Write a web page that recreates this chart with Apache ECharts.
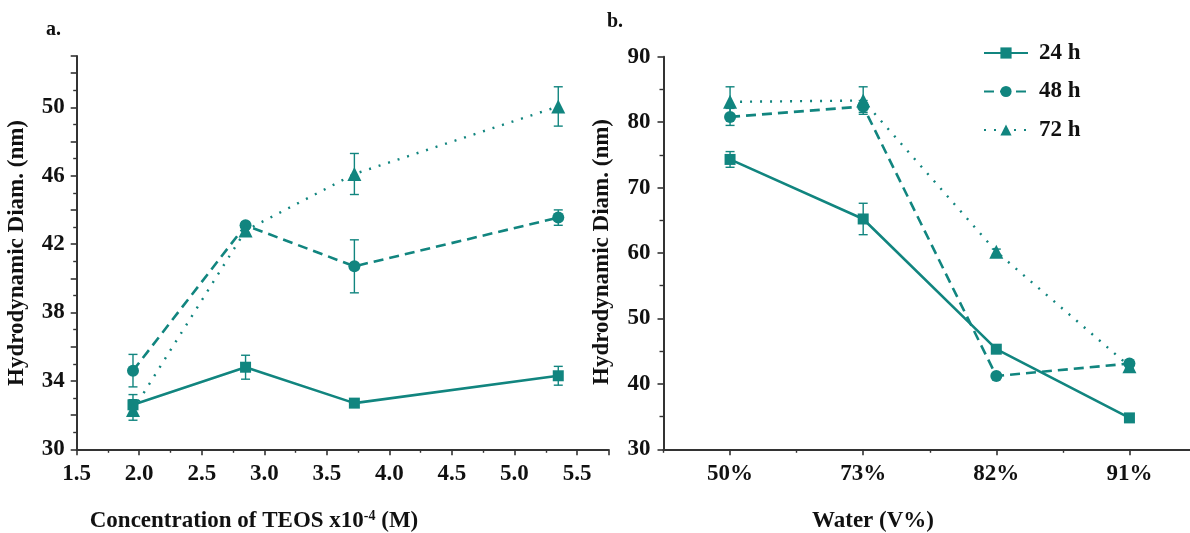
<!DOCTYPE html>
<html><head><meta charset="utf-8">
<script src="https://cdn.jsdelivr.net/npm/echarts@6/dist/echarts.min.js"></script>
<style>html,body{margin:0;padding:0;background:#fff}#c{width:1190px;height:533px}</style>
</head><body><div id="c"></div>
<script>
// ---- data (panel a) ----
const teosConc = [1.95, 2.85, 3.72, 5.35];
const a24 = [32.6, 34.8, 32.7, 34.3];
const a24err = [0.6, 0.7, 0.2, 0.55];
const a48 = [34.6, 43.1, 40.7, 43.55];
const a48err = [0.95, 0.2, 1.55, 0.45];
const a72 = [32.3, 42.8, 46.1, 50.05];
const a72err = [0.6, 0.3, 1.2, 1.15];
// ---- data (panel b) ----
const waterCats = ['50%', '73%', '82%', '91%'];
const b24 = [74.3, 65.2, 45.3, 34.8];
const b24err = [1.2, 2.4, 0.4, 0.4];
const b48 = [80.8, 82.4, 41.2, 43.1];
const b48err = [1.3, 0.9, 0.3, 0.3];
const b72 = [83.1, 83.3, 60.2, 42.7];
const b72err = [2.3, 2.1, 0.4, 0.4];
const seriesNames = ['24 h', '48 h', '72 h'];

const C = '#11857f';
const FONT = "'Liberation Serif','Times New Roman',serif";
const chart = echarts.init(document.getElementById('c'));

function errRender(params, api) {
  const x = api.value(0), y = api.value(1), e = api.value(2);
  const hi = api.coord([x, y + e]), lo = api.coord([x, y - e]);
  const w = 4.5;
  const st = { stroke: C, lineWidth: 1.4 };
  return { type: 'group', children: [
    { type: 'line', shape: { x1: hi[0], y1: hi[1], x2: lo[0], y2: lo[1] }, style: st },
    { type: 'line', shape: { x1: hi[0] - w, y1: hi[1], x2: hi[0] + w, y2: hi[1] }, style: st },
    { type: 'line', shape: { x1: lo[0] - w, y1: lo[1], x2: lo[0] + w, y2: lo[1] }, style: st }
  ]};
}
const pairs = (xs, ys) => xs.map((x, i) => [x, ys[i]]);
const errData = (xs, ys, es) => xs.map((x, i) => [x, ys[i], es[i]]);
const idx = waterCats.map((c, i) => i);

const styles = [
  { sym: 'rect', size: 11, line: { type: 'solid', width: 2.6 } },
  { sym: 'circle', size: 12, line: { type: [10, 6], width: 2.6 } },
  { sym: 'triangle', size: 14, line: { type: [2, 8], width: 2.4 } }
];
const aY = [a24, a48, a72], aE = [a24err, a48err, a72err];
const bY = [b24, b48, b72], bE = [b24err, b48err, b72err];

const series = [];
for (let k = 0; k < 3; k++) {
  series.push({ type: 'custom', xAxisIndex: 0, yAxisIndex: 0, renderItem: errRender,
    encode: { x: 0, y: 1 }, data: errData(teosConc, aY[k], aE[k]), z: 2, silent: true });
  series.push({ type: 'custom', xAxisIndex: 1, yAxisIndex: 1, renderItem: errRender,
    encode: { x: 0, y: 1 }, data: errData(idx, bY[k], bE[k]), z: 2, silent: true });
}
for (let k = 0; k < 3; k++) {
  const s = styles[k];
  series.push({ name: seriesNames[k], type: 'line', xAxisIndex: 0, yAxisIndex: 0,
    data: pairs(teosConc, aY[k]), symbol: s.sym, symbolSize: s.size, showAllSymbol: true,
    lineStyle: Object.assign({ color: C }, s.line), itemStyle: { color: C }, z: 3 });
  series.push({ name: seriesNames[k], type: 'line', xAxisIndex: 1, yAxisIndex: 1,
    data: bY[k], symbol: s.sym, symbolSize: s.size, showAllSymbol: true,
    lineStyle: Object.assign({ color: C }, s.line), itemStyle: { color: C }, z: 3 });
}

const axisLine = { show: true, onZero: false, lineStyle: { color: '#333', width: 2 } };
const lbl = { color: '#111', fontFamily: FONT, fontWeight: 'bold', fontSize: 23 };
const T = "bold 23px 'Liberation Serif'";

chart.setOption({
  animation: false,
  textStyle: { fontFamily: FONT },
  grid: [
    { left: 76.7, top: 56, right: 581.7, bottom: 83.7, containLabel: false, outerBoundsMode: 'none' },
    { left: 663.5, top: 56.7, right: -6, bottom: 83.7, containLabel: false, outerBoundsMode: 'none' }
  ],
  xAxis: [
    { type: 'value', gridIndex: 0, min: 1.5, max: 5.75, interval: 0.5,
      axisLine, splitLine: { show: false },
      axisTick: { show: true, length: 6, lineStyle: { color: '#333', width: 1.6 } },
      minorTick: { show: true, splitNumber: 2, length: 3.5, lineStyle: { color: '#333', width: 1.4 } },
      axisLabel: Object.assign({ margin: 13, showMaxLabel: false,
        formatter: v => (Math.abs(v * 2 - Math.round(v * 2)) < 1e-6 ? v.toFixed(1) : '') }, lbl) },
    { type: 'category', gridIndex: 1, data: waterCats, boundaryGap: true,
      axisLine, splitLine: { show: false },
      axisTick: { show: true, alignWithLabel: true, length: 6, lineStyle: { color: '#333', width: 1.6 } },
      axisLabel: Object.assign({ margin: 13 }, lbl) },
    { type: 'category', gridIndex: 1, data: waterCats, boundaryGap: true, position: 'bottom',
      axisLine: { show: false }, splitLine: { show: false }, axisLabel: { show: false },
      axisTick: { show: true, length: 3.5, lineStyle: { color: '#333', width: 1.4 } } }
  ],
  yAxis: [
    { type: 'value', gridIndex: 0, min: 30, max: 53, interval: 2,
      axisLine, splitLine: { show: false },
      axisTick: { show: true, length: 6, lineStyle: { color: '#333', width: 1.6 } },
      minorTick: { show: true, splitNumber: 2, length: 3.5, lineStyle: { color: '#333', width: 1.4 } },
      axisLabel: Object.assign({ margin: 12,
        formatter: v => ((v - 30) % 4 === 0 && v <= 50 ? String(v) : '') }, lbl) },
    { type: 'value', gridIndex: 1, min: 30, max: 90, interval: 10,
      axisLine, splitLine: { show: false },
      axisTick: { show: true, length: 6, lineStyle: { color: '#333', width: 1.6 } },
      minorTick: { show: true, splitNumber: 2, length: 4, lineStyle: { color: '#333', width: 1.4 } },
      axisLabel: Object.assign({ margin: 13 }, lbl) }
  ],
  legend: {
    data: seriesNames, orient: 'vertical', left: 983, top: 41.5, padding: 0,
    itemWidth: 44, itemHeight: 14, itemGap: 15.5,
    textStyle: { color: '#111', fontFamily: FONT, fontWeight: 'bold', fontSize: 23, padding: [0, 0, 0, 6] },
    selectedMode: false
  },
  graphic: [
    { type: 'text', x: 46, y: 30, style: { text: 'a.', fill: '#111', font: "bold 20px 'Liberation Serif'", verticalAlign: 'middle' } },
    { type: 'text', x: 607, y: 22, style: { text: 'b.', fill: '#111', font: "bold 20px 'Liberation Serif'", verticalAlign: 'middle' } },
    { type: 'text', x: 17, y: 253, rotation: Math.PI / 2,
      style: { text: 'Hydrodynamic Diam. (nm)', fill: '#111', font: T, align: 'center', verticalAlign: 'middle' } },
    { type: 'text', x: 602, y: 252, rotation: Math.PI / 2,
      style: { text: 'Hydrodynamic Diam. (nm)', fill: '#111', font: T, align: 'center', verticalAlign: 'middle' } },
    { type: 'text', x: 254, y: 521,
      style: { text: 'Concentration of TEOS x10{sup|-4} (M)', fill: '#111', font: T,
        align: 'center', verticalAlign: 'middle',
        rich: { sup: { fontSize: 14, fontWeight: 'bold', fontFamily: FONT, fill: '#111', verticalAlign: 'top', lineHeight: 23 } } } },
    { type: 'text', x: 873, y: 521,
      style: { text: 'Water (V%)', fill: '#111', font: T, align: 'center', verticalAlign: 'middle' } }
  ],
  series
});
</script></body></html>
